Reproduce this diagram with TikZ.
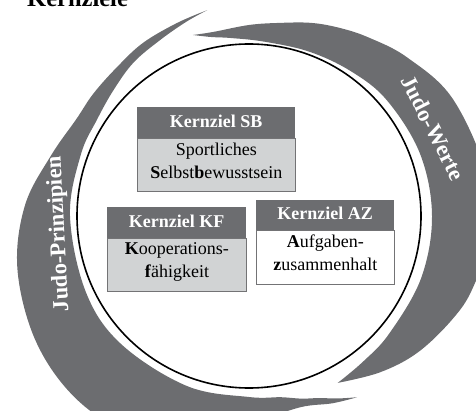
\documentclass[tikz,border=0pt]{standalone}
\usepackage{fontspec}
\setmainfont{Liberation Serif}
\usetikzlibrary{calc}
\definecolor{swgray}{RGB}{108,109,112}
\definecolor{hdgray}{RGB}{108,109,112}
\definecolor{bdgray}{RGB}{209,211,212}
\definecolor{edgegray}{RGB}{115,115,117}
\begin{document}
\begin{tikzpicture}[x=1pt,y=1pt,
  swoosh/.style={fill=swgray, draw=none},
  hdr/.style={fill=hdgray, text=white, font=\fontsize{18}{22}\selectfont\bfseries,
    minimum width=#1, inner sep=0, text height=12, text depth=3, anchor=north west},
  bodybox/.style={draw=edgegray, line width=0.9pt, minimum width=#1, inner sep=0, anchor=north west},
  bodytext/.style={font=\fontsize{18}{23}\selectfont, align=center, inner sep=0, anchor=north},
  bandtext/.style={text=white, font=\fontsize{22.5}{26}\selectfont\bfseries, inner sep=0}
]
\useasboundingbox (0,0) rectangle (476,410);
\clip (0,0) rectangle (476,410);

% title (cut off at top)
\node[anchor=base west, inner sep=0, font=\fontsize{24.5}{28}\selectfont\bfseries] (title) at (27,403) {Kernziele};

\begin{scope}[shift={(249,194)}]
% right swoosh (Judo-Werte)
\fill[swoosh] plot[smooth, tension=0.6] coordinates {(107.2:189.5) (101:187.5) (90:191) (81:195.5) (72:203) (64:209) (56:215) (45:224) (30:235) (10:241) (-5:241) (-18:235) (-27:228) (-39:217) (-50:204) (-62:189)}
  -- plot[smooth, tension=0.6] coordinates {(-62:189) (-52:185) (-40:183) (-20:183) (0:183) (20:182) (40:180) (55:177) (70:175) (85:175) (96:179) (102:183) (107.2:189.5)} -- cycle;
% left swoosh (Judo-Prinzipien)
\fill[swoosh] plot[smooth, tension=0.6] coordinates {(101.5:210) (110.5:206) (121.5:203) (131.5:199) (141.7:198) (150.7:198) (163:207) (177:224) (192:237) (208:246) (222:251) (235:250) (248:238) (260:222) (272:206) (285:198) (294:205) (300.8:211)}
  -- plot[smooth, tension=0.6] coordinates {(300.8:211) (296:203) (291:195) (286:190) (280:184) (270:181) (250:181) (225:181) (205:180) (180:179) (160:179) (147.5:180) (137:185) (127:192) (117:197) (108:204) (101.5:210)} -- cycle;
\end{scope}

\node[draw, line width=1.6pt, circle, minimum size=344, inner sep=0] (ring) at (249,194) {};

\node[bandtext, rotate=-63] (werte) at (433,282) {Judo-Werte};
\node[bandtext, rotate=93] (prinz) at (59,176) {Judo-Prinzipien};

% Kernziel SB
\node[hdr=158, minimum height=31] (sbh) at (137,303) {Kernziel SB};
\node[bodybox=158, minimum height=53, fill=bdgray] (sbb) at (sbh.south west) {};
\node[bodytext] (sbt) at ($(sbb.north)+(0,-4)$) {Sportliches\\\textbf{S}elbst\textbf{b}ewusstsein};

% Kernziel KF
\node[hdr=139, minimum height=31] (kfh) at (107,203) {Kernziel KF};
\node[bodybox=139, minimum height=53, fill=bdgray] (kfb) at (kfh.south west) {};
\node[bodytext] (kft) at ($(kfb.north)+(0,-3.5)$) {\textbf{K}ooperations-\\\textbf{f}ähigkeit};

% Kernziel AZ
\node[hdr=138, minimum height=30] (azh) at (256,210) {Kernziel AZ};
\node[bodybox=138, minimum height=54, fill=white] (azb) at (azh.south west) {};
\node[bodytext] (azt) at ($(azb.north)+(0,-4)$) {\textbf{A}ufgaben-\\\textbf{z}usammenhalt};
\end{tikzpicture}
\end{document}
